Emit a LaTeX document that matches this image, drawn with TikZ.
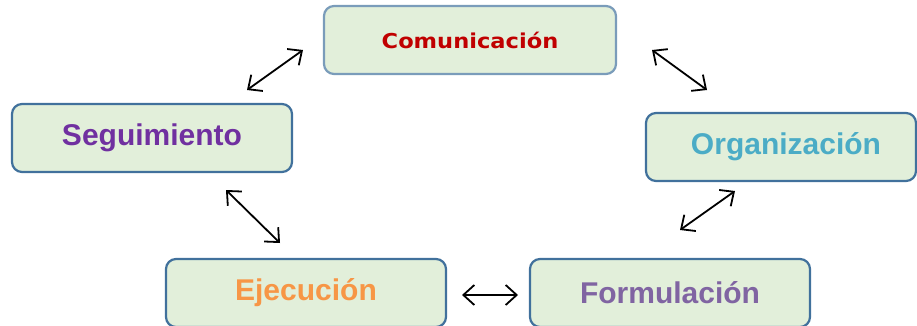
\documentclass[tikz,border=0pt]{standalone}
\usepackage{fontspec}
\setmainfont{Liberation Sans}
\newfontfamily\comfont{DejaVu Sans}
\usetikzlibrary{arrows.meta}
\definecolor{boxfill}{HTML}{E2EFDA}
\definecolor{boxline}{HTML}{41719C}
\definecolor{comred}{HTML}{C00000}
\definecolor{segpurple}{HTML}{7030A0}
\definecolor{orgteal}{HTML}{4BACC6}
\definecolor{ejeorange}{HTML}{F79646}
\definecolor{forpurple}{HTML}{8064A2}
\begin{document}
\begin{tikzpicture}[x=1pt, y=1pt, thick,
	main/.style = {draw=boxline, line width=2.2pt, fill=boxfill, rounded corners=10pt, minimum width=280pt, minimum height=68pt, inner sep=0pt, font=\bfseries\fontsize{30}{34}\selectfont},
	arr/.style = {line width=1.8pt, {Straight Barb[length=11pt,width=20pt]}-{Straight Barb[length=11pt,width=20pt]}}]

			\useasboundingbox (0,0) rectangle (917,325);

			\node[main, draw=boxline!70, minimum width=292pt, font=\comfont\bfseries\fontsize{20.5}{24}\selectfont, text=comred] (com) at (470,285) {\scalebox{1.1}[1]{Comunicación}};
			\node[main, text=segpurple] (seg) at (152,187) {Seguimiento};
			\node[main, minimum width=270pt, text=orgteal] (org) at (781,178) {\hspace*{10pt}Organización};
			\node[main, text=ejeorange] (eje) at (306,32) {Ejecución};
			\node[main, text=forpurple] (for) at (670,32) {Formulación};

			\coordinate (a1) at (247,235);
			\coordinate (b1) at (303,275);
			\coordinate (a2) at (652,275);
			\coordinate (b2) at (707,235);
			\coordinate (a3) at (735,134);
			\coordinate (b3) at (680,95);
			\coordinate (a4) at (462,30);
			\coordinate (b4) at (518,30);
			\coordinate (a5) at (226,135);
			\coordinate (b5) at (280,82);

			\draw[arr] (a1) -- (b1);
			\draw[arr] (a2) -- (b2);
			\draw[arr] (a3) -- (b3);
			\draw[arr] (a4) -- (b4);
			\draw[arr] (a5) -- (b5);
		\end{tikzpicture}
\end{document}
